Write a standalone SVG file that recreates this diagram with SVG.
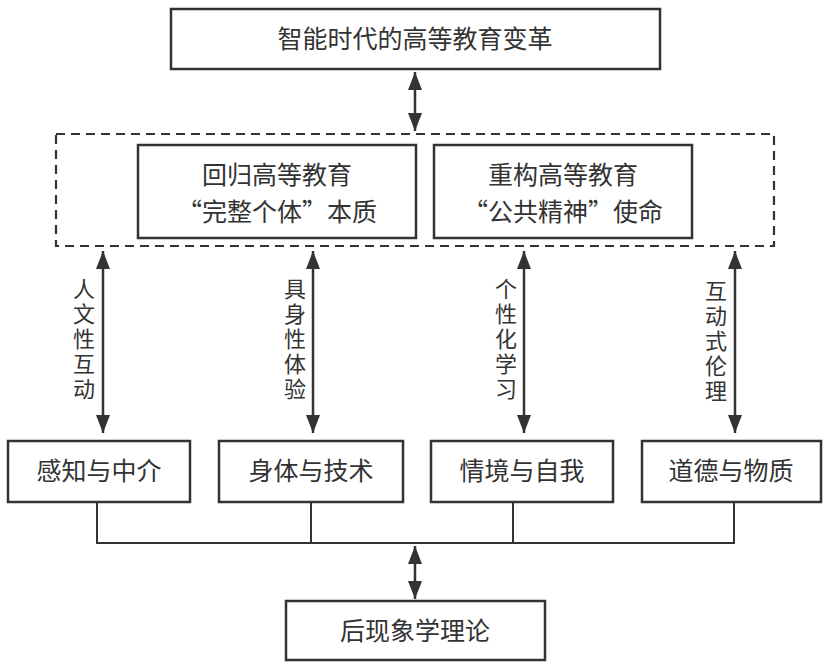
<svg xmlns="http://www.w3.org/2000/svg" width="825" height="666" viewBox="0 0 825 666">
<style>
.box{fill:#fff;stroke:#333;stroke-width:2.5}
.dash{fill:none;stroke:#333;stroke-width:2.2;stroke-dasharray:9 6}
.ln{fill:none;stroke:#333;stroke-width:2}
.arr{fill:none;stroke:#333;stroke-width:2.5;marker-start:url(#ah);marker-end:url(#ah)}
text{font-family:"Noto Sans CJK SC","Noto Sans",sans-serif;fill:#333;font-size:25px}
.c{text-anchor:middle}
.v{font-size:22px;writing-mode:vertical-rl;letter-spacing:3px}
</style>
<defs>
<marker id="ah" markerUnits="userSpaceOnUse" markerWidth="20" markerHeight="14" refX="18" refY="7" orient="auto-start-reverse">
<path d="M0,0 L18,7 L0,14 Z" fill="#333"/>
</marker>
</defs>
<rect width="825" height="666" fill="#fff"/>
<g id="connectors">
<line class="arr" x1="415" y1="72" x2="415" y2="131"/>
<line class="arr" x1="103" y1="251" x2="103" y2="433"/>
<line class="arr" x1="313" y1="251" x2="313" y2="433"/>
<line class="arr" x1="524" y1="251" x2="524" y2="433"/>
<line class="arr" x1="735" y1="251" x2="735" y2="433"/>
<polyline class="ln" points="97,503 97,543 734,543 734,503"/>
<line class="ln" x1="311" y1="503" x2="311" y2="543"/>
<line class="ln" x1="513" y1="503" x2="513" y2="543"/>
<line class="arr" x1="415" y1="546" x2="415" y2="599"/>
<text class="v" x="84" y="278">人文性互动</text>
<text class="v" x="295" y="278">具身性体验</text>
<text class="v" x="506" y="278">个性化学习</text>
<text class="v" x="716" y="280">互动式伦理</text>
</g>
<g id="top">
<rect class="box" x="171" y="9" width="489" height="60"/>
<text class="c" x="415" y="48">智能时代的高等教育变革</text>
</g>
<g id="group">
<rect class="dash" x="56" y="134" width="718" height="112"/>
</g>
<g id="return">
<rect class="box" x="138" y="145" width="278" height="93"/>
<text class="c" x="277" y="184">回归高等教育</text>
<text class="c" x="277" y="221">“完整个体”本质</text>
</g>
<g id="rebuild">
<rect class="box" x="434" y="145" width="258" height="93"/>
<text class="c" x="563" y="184">重构高等教育</text>
<text class="c" x="563" y="221">“公共精神”使命</text>
</g>
<g id="b1"><rect class="box" x="8" y="441" width="182" height="61"/><text class="c" x="99" y="480">感知与中介</text></g>
<g id="b2"><rect class="box" x="219" y="441" width="184" height="61"/><text class="c" x="311" y="480">身体与技术</text></g>
<g id="b3"><rect class="box" x="431" y="441" width="182" height="61"/><text class="c" x="522" y="480">情境与自我</text></g>
<g id="b4"><rect class="box" x="642" y="441" width="179" height="61"/><text class="c" x="731" y="480">道德与物质</text></g>
<g id="bottom">
<rect class="box" x="286" y="601" width="259" height="59"/>
<text class="c" x="415" y="640">后现象学理论</text>
</g>
</svg>
